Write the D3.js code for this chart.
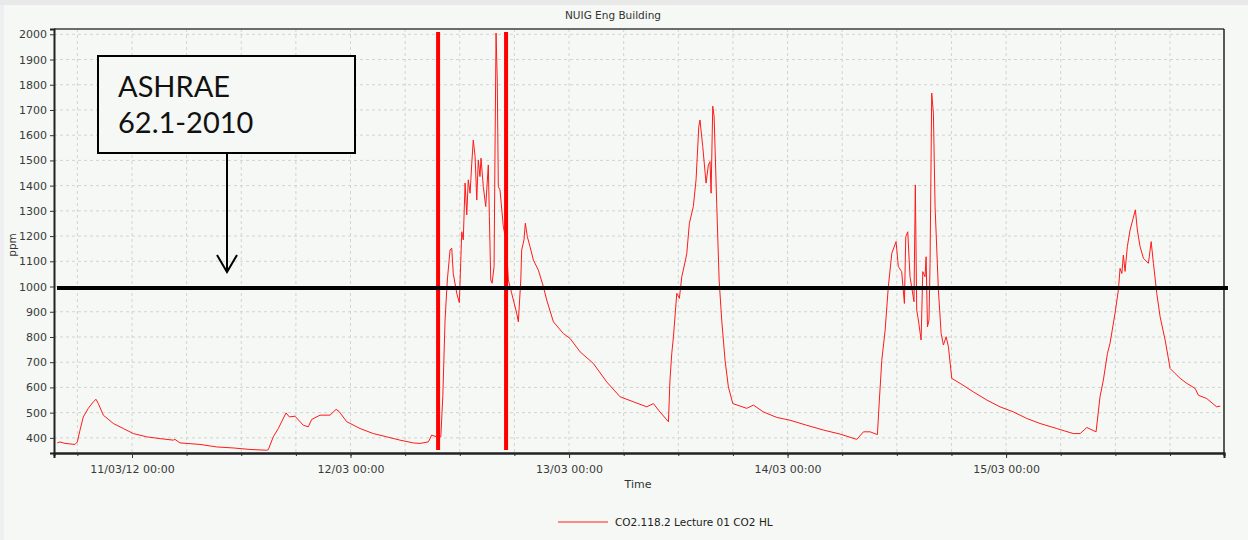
<!DOCTYPE html>
<html>
<head>
<meta charset="utf-8">
<script src="https://cdn.jsdelivr.net/npm/d3@7"></script>
<style>
  body { margin: 0; background: #f5f8f4; }
  svg { display: block; }
</style>
</head>
<body>
<svg id="chart" width="1248" height="540"></svg>
<script>
const parseTime = d3.timeParse("%d/%m/%y %H:%M");

// CO2 readings (ppm)
const times = [
  "10/03/12 15:48","10/03/12 16:05","10/03/12 16:38","10/03/12 17:44","10/03/12 18:00","10/03/12 18:17","10/03/12 18:39","10/03/12 19:12","10/03/12 19:45","10/03/12 20:03",
  "10/03/12 20:18","10/03/12 20:51","10/03/12 21:57","10/03/12 23:03","11/03/12 00:09","11/03/12 01:37","11/03/12 03:05","11/03/12 04:32","11/03/12 04:43","11/03/12 05:16",
  "11/03/12 07:28","11/03/12 09:18","11/03/12 11:08","11/03/12 12:58","11/03/12 14:48","11/03/12 14:58","11/03/12 15:31","11/03/12 16:04","11/03/12 16:55","11/03/12 17:17",
  "11/03/12 17:54","11/03/12 18:49","11/03/12 19:22","11/03/12 19:44","11/03/12 20:39","11/03/12 21:45","11/03/12 22:25","11/03/12 22:44","11/03/12 23:35","12/03/12 01:03",
  "12/03/12 02:30","12/03/12 03:59","12/03/12 05:26","12/03/12 06:54","12/03/12 07:38","12/03/12 08:33","12/03/12 08:55","12/03/12 09:28","12/03/12 09:55","12/03/12 10:08",
  "12/03/12 10:23","12/03/12 10:38","12/03/12 10:56","12/03/12 11:07","12/03/12 11:17","12/03/12 11:40","12/03/12 11:57","12/03/12 12:06","12/03/12 12:13","12/03/12 12:23",
  "12/03/12 12:35","12/03/12 12:46","12/03/12 12:56","12/03/12 13:08","12/03/12 13:19","12/03/12 13:29","12/03/12 13:41","12/03/12 13:52","12/03/12 14:02","12/03/12 14:13",
  "12/03/12 14:20","12/03/12 14:35","12/03/12 14:51","12/03/12 15:08","12/03/12 15:15","12/03/12 15:24","12/03/12 15:33","12/03/12 15:46","12/03/12 15:52","12/03/12 15:59",
  "12/03/12 16:07","12/03/12 16:14","12/03/12 16:25","12/03/12 16:47","12/03/12 17:05","12/03/12 17:20","12/03/12 17:42","12/03/12 18:15","12/03/12 18:26","12/03/12 18:42",
  "12/03/12 18:48","12/03/12 19:03","12/03/12 19:12","12/03/12 19:25","12/03/12 19:43","12/03/12 20:05","12/03/12 20:38","12/03/12 21:11","12/03/12 21:33","12/03/12 22:17",
  "12/03/12 23:22","13/03/12 00:07","13/03/12 01:13","13/03/12 02:40","13/03/12 04:08","13/03/12 05:36","13/03/12 07:04","13/03/12 08:32","13/03/12 09:16","13/03/12 09:49",
  "13/03/12 10:55","13/03/12 11:05","13/03/12 11:17","13/03/12 11:28","13/03/12 11:50","13/03/12 12:07","13/03/12 12:23","13/03/12 12:45","13/03/12 12:56","13/03/12 13:13",
  "13/03/12 13:39","13/03/12 13:57","13/03/12 14:15","13/03/12 14:23","13/03/12 14:41","13/03/12 15:03","13/03/12 15:18","13/03/12 15:29","13/03/12 15:36","13/03/12 15:47",
  "13/03/12 15:56","13/03/12 16:13","13/03/12 16:29","13/03/12 16:46","13/03/12 17:08","13/03/12 17:30","13/03/12 17:59","13/03/12 18:47","13/03/12 19:31","13/03/12 20:15",
  "13/03/12 21:20","13/03/12 22:49","14/03/12 00:16","14/03/12 02:06","14/03/12 03:56","14/03/12 05:46","14/03/12 07:36","14/03/12 08:20","14/03/12 09:04","14/03/12 09:52",
  "14/03/12 10:05","14/03/12 10:21","14/03/12 10:43","14/03/12 11:04","14/03/12 11:27","14/03/12 11:55","14/03/12 12:10","14/03/12 12:32","14/03/12 12:50","14/03/12 12:59",
  "14/03/12 13:12","14/03/12 13:27","14/03/12 13:53","14/03/12 14:02","14/03/12 14:11","14/03/12 14:22","14/03/12 14:40","14/03/12 14:51","14/03/12 15:06","14/03/12 15:13",
  "14/03/12 15:22","14/03/12 15:32","14/03/12 15:39","14/03/12 15:50","14/03/12 16:01","14/03/12 16:12","14/03/12 16:34","14/03/12 16:52","14/03/12 17:07","14/03/12 17:25",
  "14/03/12 17:40","14/03/12 18:02","14/03/12 18:57","14/03/12 20:25","14/03/12 21:53","14/03/12 23:20","15/03/12 00:48","15/03/12 02:16","15/03/12 03:44","15/03/12 05:34",
  "15/03/12 07:23","15/03/12 08:08","15/03/12 08:52","15/03/12 09:53","15/03/12 10:19","15/03/12 10:41","15/03/12 11:08","15/03/12 11:25","15/03/12 11:58","15/03/12 12:20",
  "15/03/12 12:31","15/03/12 12:43","15/03/12 12:53","15/03/12 13:04","15/03/12 13:19","15/03/12 13:37","15/03/12 14:12","15/03/12 14:25","15/03/12 14:43","15/03/12 15:05",
  "15/03/12 15:38","15/03/12 15:56","15/03/12 16:11","15/03/12 16:33","15/03/12 16:55","15/03/12 17:28","15/03/12 18:01","15/03/12 18:34","15/03/12 19:07","15/03/12 19:51",
  "15/03/12 20:46","15/03/12 21:07","15/03/12 22:02","15/03/12 23:08","15/03/12 23:31"
];
const co2 = [
  380,384,378,374,384,430,483,517,543,553,
  536,490,457,437,417,404,397,391,394,380,
  374,364,360,354,351,353,404,437,499,483,
  486,450,444,473,490,490,513,505,464,437,
  417,404,391,380,378,384,411,404,404,563,
  867,1026,1145,1152,1052,973,936,1092,1217,1185,
  1410,1284,1423,1370,1489,1581,1515,1343,1502,1436,
  1509,1396,1317,1482,1277,1026,1013,1079,1529,2005,
  1819,1396,1383,1237,1185,1026,973,894,860,1026,
  1145,1185,1251,1198,1158,1105,1065,999,946,860,
  814,794,741,695,622,563,543,523,536,510,
  464,629,735,801,973,953,1039,1098,1132,1251,
  1317,1423,1634,1660,1555,1410,1482,1495,1370,1715,
  1674,1330,1026,867,708,602,536,526,517,530,
  503,481,470,450,431,415,394,424,424,413,
  550,708,827,999,1132,1178,1079,1059,933,1198,
  1217,1039,940,1403,907,867,788,1059,1039,1118,
  840,867,1092,1767,1687,1317,986,814,768,801,
  761,636,616,582,550,523,503,477,457,437,
  417,417,441,424,563,629,735,775,894,986,
  1072,1052,1125,1060,1158,1224,1304,1224,1158,1112,
  1092,1178,1092,973,880,788,675,655,636,616,
  596,569,556,523,526
];

const xDomain = ["10/03/12 15:26", "15/03/12 23:56"];
const dayTicks = ["11/03/12 00:00", "12/03/12 00:00", "13/03/12 00:00", "14/03/12 00:00", "15/03/12 00:00"];
const dayLabels = ["11/03/12 00:00", "12/03 00:00", "13/03 00:00", "14/03 00:00", "15/03 00:00"];
const yDomain = [340, 2021];
const yTicks = [400, 500, 600, 700, 800, 900, 1000, 1100, 1200, 1300, 1400, 1500, 1600, 1700, 1800, 1900, 2000];

// annotations
const lectureMarks = ["12/03/12 09:37", "12/03/12 17:05"];
const ashraeLimit = 1000;
const noteLines = ["ASHRAE", "62.1-2010"];

const chartTitle = "NUIG Eng Building";
const yLabel = "ppm";
const xLabel = "Time";
const seriesName = "CO2.118.2 Lecture 01 CO2 HL";

const data = times.map((t, i) => ({ time: parseTime(t), value: co2[i] }));

const margin = { top: 29, right: 24, bottom: 87, left: 54 };
const W = 1248, H = 540;
const iw = W - margin.left - margin.right;
const ih = H - margin.top - margin.bottom;

const svg = d3.select("#chart");
const font = "'DejaVu Sans', sans-serif";

// screenshot frame
svg.append("rect").attr("x", 0).attr("y", 0).attr("width", W).attr("height", H).attr("fill", "#f5f8f4");
svg.append("rect").attr("x", 0).attr("y", 0).attr("width", W).attr("height", 5).attr("fill", "#e9e9e9");
svg.append("rect").attr("x", 0).attr("y", 5).attr("width", 4).attr("height", H - 5).attr("fill", "#efeff2");

const x = d3.scaleTime()
  .domain(xDomain.map(parseTime))
  .range([0, iw]);
const y = d3.scaleLinear()
  .domain(yDomain)
  .range([ih, 0]);

const g = svg.append("g").attr("transform", `translate(${margin.left},${margin.top})`);

// grid
const sixHours = x.ticks(d3.timeHour.every(6));
g.append("g")
  .selectAll("line")
  .data(sixHours)
  .enter()
  .append("line")
  .attr("x1", d => x(d)).attr("x2", d => x(d))
  .attr("y1", 0).attr("y2", ih)
  .attr("stroke", "#d2d4d2")
  .attr("stroke-dasharray", "3,3");
g.append("g")
  .selectAll("line")
  .data(yTicks)
  .enter()
  .append("line")
  .attr("x1", 0).attr("x2", iw)
  .attr("y1", d => y(d)).attr("y2", d => y(d))
  .attr("stroke", "#d2d4d2")
  .attr("stroke-dasharray", "3,3");

// plot border
g.append("line").attr("x1", 0).attr("x2", iw).attr("y1", 0).attr("y2", 0)
  .attr("stroke", "#6c6c6c").attr("stroke-width", 2);
g.append("line").attr("x1", iw).attr("x2", iw).attr("y1", 0).attr("y2", ih)
  .attr("stroke", "#222").attr("stroke-width", 1.5);

// axes
const yAxis = g.append("g")
  .call(d3.axisLeft(y).tickValues(yTicks).tickFormat(d3.format("d")).tickSize(4).tickPadding(3));
const xMinor = g.append("g")
  .attr("transform", `translate(0,${ih})`)
  .call(d3.axisBottom(x).tickValues(sixHours).tickSize(3).tickFormat(""));
const xAxis = g.append("g")
  .attr("transform", `translate(0,${ih})`)
  .call(d3.axisBottom(x)
    .tickValues(dayTicks.map(parseTime))
    .tickSize(5)
    .tickPadding(7)
    .tickFormat((d, i) => dayLabels[i]));

[yAxis, xMinor, xAxis].forEach(a => {
  a.selectAll("text").attr("font-family", font).attr("font-size", 11).attr("fill", "#3a3a3a");
  a.selectAll("line").attr("stroke", "#333");
  a.select(".domain").attr("stroke", "#222").attr("stroke-width", 2);
});

// series
g.append("clipPath").attr("id", "clip")
  .append("rect").attr("width", iw).attr("height", ih);

g.append("path")
  .datum(data)
  .attr("clip-path", "url(#clip)")
  .attr("fill", "none")
  .attr("stroke", "#ff1a1a")
  .attr("stroke-width", 1)
  .attr("d", d3.line()
    .x(d => x(d.time))
    .y(d => y(d.value)));

// lecture markers
g.selectAll(".mark")
  .data(lectureMarks)
  .enter()
  .append("line")
  .attr("class", "mark")
  .attr("x1", d => x(parseTime(d))).attr("x2", d => x(parseTime(d)))
  .attr("y1", 3).attr("y2", ih - 3)
  .attr("stroke", "#f00")
  .attr("stroke-width", 4);

// ASHRAE limit
g.append("line")
  .attr("x1", 3).attr("x2", iw + 4)
  .attr("y1", y(ashraeLimit) + 1.5).attr("y2", y(ashraeLimit) + 1.5)
  .attr("stroke", "#000")
  .attr("stroke-width", 4);

// note box + arrow
const note = svg.append("g");
note.append("rect")
  .attr("x", 98).attr("y", 56).attr("width", 257).attr("height", 97)
  .attr("fill", "#f5f8f4").attr("stroke", "#000").attr("stroke-width", 2);
note.selectAll("text")
  .data(noteLines)
  .enter()
  .append("text")
  .attr("x", 118)
  .attr("y", (d, i) => 97 + i * 36)
  .attr("font-family", "Lato, 'Open Sans', sans-serif")
  .attr("font-size", 29)
  .attr("fill", "#111")
  .text(d => d);
note.append("line")
  .attr("x1", 227).attr("x2", 227).attr("y1", 153).attr("y2", 272)
  .attr("stroke", "#000").attr("stroke-width", 2);
note.append("path")
  .attr("d", "M217,255 L227,272 L237,255")
  .attr("fill", "none").attr("stroke", "#000").attr("stroke-width", 2);

// titles
svg.append("text")
  .attr("x", 613).attr("y", 19)
  .attr("text-anchor", "middle")
  .attr("font-family", font).attr("font-size", 10.5).attr("fill", "#333")
  .text(chartTitle);
svg.append("text")
  .attr("transform", "translate(16,245) rotate(-90)")
  .attr("text-anchor", "middle")
  .attr("font-family", font).attr("font-size", 10.5).attr("fill", "#333")
  .text(yLabel);
svg.append("text")
  .attr("x", 638).attr("y", 488)
  .attr("text-anchor", "middle")
  .attr("font-family", font).attr("font-size", 11).attr("fill", "#333")
  .text(xLabel);

// legend
const legend = svg.append("g").attr("transform", "translate(558,522)");
legend.append("line").attr("x1", 0).attr("x2", 50).attr("y1", 0).attr("y2", 0)
  .attr("stroke", "#ff1a1a").attr("stroke-width", 1);
legend.append("text")
  .attr("x", 57).attr("y", 4)
  .attr("font-family", font).attr("font-size", 10.5).attr("fill", "#222")
  .text(seriesName);
</script>
</body>
</html>
